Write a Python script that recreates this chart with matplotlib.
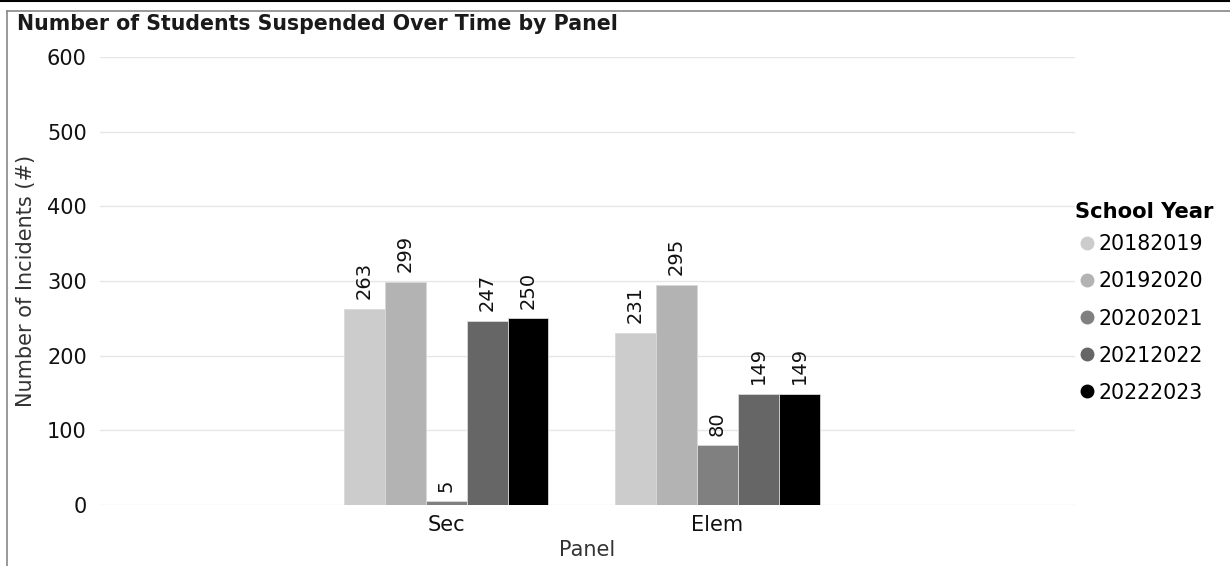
import numpy as np
import matplotlib.pyplot as plt
from matplotlib.lines import Line2D

panels = ['Sec', 'Elem']
years = ['20182019', '20192020', '20202021', '20212022', '20222023']
counts = {
    '20182019': [263, 231],
    '20192020': [299, 295],
    '20202021': [5, 80],
    '20212022': [247, 149],
    '20222023': [250, 149],
}
colors = ['#cccccc', '#b3b3b3', '#808080', '#666666', '#000000']
yticks = [0, 100, 200, 300, 400, 500, 600]

plt.rcParams['font.family'] = ['DejaVu Sans']

fig = plt.figure(figsize=(12.3, 5.66), dpi=100)
ax = fig.add_axes([100 / 1230, 1 - 505 / 566, 975 / 1230, 448 / 566])

x = np.arange(len(panels))
w = 0.151
for i, yr in enumerate(years):
    pos = x + (i - 2) * w
    bars = ax.bar(pos, counts[yr], width=w, color=colors[i],
                  edgecolor='#d9d9d9', linewidth=0.6, zorder=3)
    for b, v in zip(bars, counts[yr]):
        ax.text(b.get_x() + b.get_width() / 2, v + 13, str(v),
                rotation=90, ha='center', va='bottom', fontsize=14,
                color='#111111', zorder=4)

ax.set_xlim(-1.277, 2.32)
ax.set_ylim(0, 600)
ax.set_yticks(yticks)
ax.set_xticks(x)
ax.set_xticklabels(panels)
ax.tick_params(axis='both', length=0, labelsize=15, colors='#111111')
ax.tick_params(axis='y', pad=9.5)
ax.tick_params(axis='x', pad=7)
ax.grid(axis='y', color='#e6e6e6', linewidth=1, zorder=0)
for s in ax.spines.values():
    s.set_visible(False)

ax.set_ylabel('Number of Incidents (#)', fontsize=15, color='#333333', labelpad=8)
ax.set_xlabel('Panel', fontsize=15, color='#333333', labelpad=4)

fig.text(17 / 1230, 1 - 24 / 566, 'Number of Students Suspended Over Time by Panel',
         fontsize=14.8, fontweight='bold', color='#1a1a1a', va='center', ha='left')

# legend title drawn separately so the item spacing can be set on its own
fig.text(1075 / 1230, 1 - 212 / 566, 'School Year', fontsize=15.2,
         fontweight='bold', color='black', va='center', ha='left')
handles = [Line2D([], [], marker='o', linestyle='', markersize=9,
                  markerfacecolor=c, markeredgecolor=c) for c in colors]
leg = fig.legend(handles, years, loc='upper left',
                 bbox_to_anchor=(1061 / 1230, 1 - 220 / 566),
                 frameon=False, fontsize=14.8,
                 handletextpad=0.0, handlelength=1.1, labelspacing=0.83,
                 borderpad=0.2)

# frame lines around the panel
fig.add_artist(Line2D([0, 1], [1 - 1 / 566, 1 - 1 / 566], color='black', linewidth=1.5))
fig.add_artist(Line2D([7 / 1230, 1], [1 - 11 / 566, 1 - 11 / 566], color='#888888', linewidth=1.2))
fig.add_artist(Line2D([7 / 1230, 7 / 1230], [0, 1 - 11 / 566], color='#888888', linewidth=1.2))

fig.savefig('out.png', dpi=100)
